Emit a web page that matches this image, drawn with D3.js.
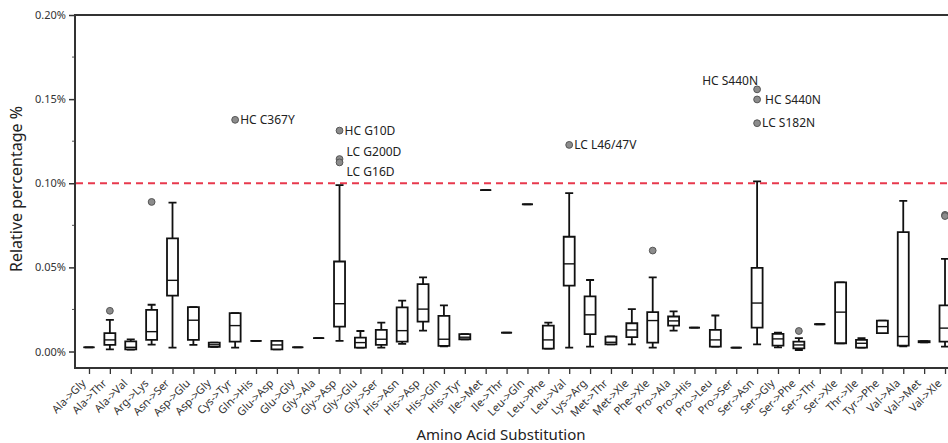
<!DOCTYPE html>
<html>
<head>
<meta charset="utf-8">
<script src="https://cdn.jsdelivr.net/npm/d3@7"></script>
<style>
  body { margin: 0; background: #fff; }
  svg { display: block; font-family: "Noto Sans", sans-serif; }
</style>
</head>
<body>
<div id="chart"></div>
<script>
// amino acid substitutions, values in %
var categories = ["Ala->Gly","Ala->Thr","Ala->Val","Arg->Lys","Asn->Ser","Asp->Glu","Asp->Gly","Cys->Tyr",
  "Gln->His","Glu->Asp","Glu->Gly","Gly->Ala","Gly->Asp","Gly->Glu","Gly->Ser","His->Asn","His->Asp",
  "His->Gln","His->Tyr","Ile->Met","Ile->Thr","Leu->Gln","Leu->Phe","Leu->Val","Lys->Arg","Met->Thr",
  "Met->Xle","Phe->Xle","Pro->Ala","Pro->His","Pro->Leu","Pro->Ser","Ser->Asn","Ser->Gly","Ser->Phe",
  "Ser->Thr","Ser->Xle","Thr->Ile","Tyr->Phe","Val->Ala","Val->Met","Val->Xle"]

var whiskerLow  = [0.0025,0.0013,0.0012,0.0041,0.0023,0.0039,0.0027,0.0023,0.0063,0.0013,0.0025,0.0079,0.0063,0.0023,0.0023,0.0045,0.0124,
  0.0030,0.0073,0.0959,0.0112,0.0875,0.0017,0.0023,0.0029,0.0043,0.0043,0.0023,0.0124,0.0142,0.0029,0.0023,0.0043,0.0025,0.0009,
  0.0162,0.0049,0.0023,0.0109,0.0030,0.0055,0.0029]
var q1 = [0.0025,0.0039,0.0013,0.0069,0.0332,0.0069,0.0027,0.0059,0.0063,0.0013,0.0025,0.0079,0.0148,0.0023,0.0039,0.0059,0.0178,
  0.0033,0.0073,0.0959,0.0112,0.0875,0.0017,0.0391,0.0103,0.0043,0.0085,0.0053,0.0154,0.0142,0.0029,0.0023,0.0142,0.0035,0.0019,
  0.0162,0.0049,0.0023,0.0109,0.0035,0.0055,0.0059]
var median = [0.0025,0.0069,0.0025,0.0118,0.0423,0.0186,0.0040,0.0154,0.0063,0.0039,0.0025,0.0079,0.0284,0.0053,0.0073,0.0124,0.0252,
  0.0073,0.0085,0.0959,0.0112,0.0875,0.0069,0.0521,0.0218,0.0055,0.0128,0.0184,0.0182,0.0142,0.0069,0.0023,0.0288,0.0075,0.0039,
  0.0162,0.0234,0.0049,0.0148,0.0089,0.0058,0.0139]
var q3 = [0.0025,0.0109,0.0060,0.0248,0.0672,0.0264,0.0053,0.0228,0.0063,0.0063,0.0025,0.0079,0.0535,0.0083,0.0128,0.0262,0.0401,
  0.0212,0.0103,0.0959,0.0112,0.0875,0.0154,0.0682,0.0328,0.0089,0.0168,0.0234,0.0208,0.0142,0.0128,0.0023,0.0497,0.0105,0.0059,
  0.0162,0.0411,0.0069,0.0184,0.0710,0.0062,0.0274]
var whiskerHigh = [0.0025,0.0188,0.0072,0.0278,0.0885,0.0264,0.0053,0.0228,0.0063,0.0063,0.0025,0.0079,0.0989,0.0122,0.0172,0.0302,0.0441,
  0.0274,0.0103,0.0959,0.0112,0.0875,0.0172,0.0941,0.0425,0.0090,0.0252,0.0441,0.0238,0.0142,0.0214,0.0023,0.1011,0.0112,0.0079,
  0.0162,0.0411,0.0079,0.0184,0.0895,0.0062,0.0551]

var outlierCat   = ["Ala->Thr","Arg->Lys","Cys->Tyr","Gly->Asp","Gly->Asp","Gly->Asp","Leu->Val","Phe->Xle",
  "Ser->Asn","Ser->Asn","Ser->Asn","Ser->Phe","Val->Xle","Val->Xle"]
var outlierValue = [0.0242,0.0889,0.1377,0.1313,0.1144,0.1124,0.1228,0.0600,0.1558,0.1498,0.1357,0.0122,0.0812,0.0805]
var outlierLabel = ["","","HC C367Y","HC G10D","LC G200D","LC G16D","LC L46/47V","","HC S440N","HC S440N","LC S182N","","",""]

var yTicks = [0, 0.05, 0.10, 0.15, 0.20]
var threshold = 0.10

var W = 948, H = 443
var mLeft = 75, mTop = 15, mBottom = 368, mRight = 959

var svg = d3.select("#chart").append("svg")
  .attr("width", W)
  .attr("height", H)

var x = d3.scalePoint().domain(categories).range([mLeft, mRight]).padding(0.67)
var y = d3.scaleLinear().domain([-0.0098, 0.2]).range([mBottom, mTop])

// y axis (minor ticks every 0.025)
var yAxis = svg.append("g")
  .attr("transform", "translate(" + mLeft + ",0)")
  .call(d3.axisLeft(y).tickValues(yTicks).tickSize(6).tickFormat(function(d){ return d3.format(".2f")(d) + "%" }))
yAxis.select(".domain").remove()
yAxis.selectAll("line").attr("stroke", "#333").attr("stroke-width", 1.5)
yAxis.selectAll("text").attr("font-size", "11px").attr("fill", "#333").attr("x", -9)
  .style("font-family", "Noto Sans, sans-serif")

svg.append("g").selectAll("line")
  .data([0.025, 0.075, 0.125, 0.175])
  .enter().append("line")
  .attr("x1", mLeft - 3).attr("x2", mLeft)
  .attr("y1", function(d){ return y(d) }).attr("y2", function(d){ return y(d) })
  .attr("stroke", "#555").attr("stroke-width", 1)

// x axis
var xAxis = svg.append("g")
  .attr("transform", "translate(0," + mBottom + ")")
  .call(d3.axisBottom(x).tickSize(6).tickSizeOuter(0))
xAxis.select(".domain").remove()
xAxis.selectAll("line").attr("stroke", "#333").attr("stroke-width", 1.3)
xAxis.selectAll("text")
  .attr("font-size", "11px").attr("fill", "#333")
  .style("font-family", "Noto Sans, sans-serif")
  .attr("text-anchor", "end")
  .attr("y", 0).attr("dy", 0)
  .attr("transform", "translate(-3,16) rotate(-45)")

// frame
svg.append("path")
  .attr("d", "M" + (W + 5) + "," + mTop + "H" + mLeft + "V" + mBottom + "H" + (W + 5))
  .attr("fill", "none").attr("stroke", "#333").attr("stroke-width", 2)

// threshold line
svg.append("line")
  .attr("x1", mLeft + 1).attr("x2", W)
  .attr("y1", y(threshold)).attr("y2", y(threshold))
  .attr("stroke", "#e8394d").attr("stroke-width", 2)
  .attr("stroke-dasharray", "7,5")

// boxes
var boxW = 11, capW = 8
var boxes = svg.append("g").selectAll("g")
  .data(categories)
  .enter().append("g")

boxes.append("path")
  .attr("d", function(d, i) {
    var cx = x(d)
    return "M" + cx + "," + y(whiskerLow[i]) + "V" + y(whiskerHigh[i]) +
      "M" + (cx - capW / 2) + "," + y(whiskerLow[i]) + "h" + capW +
      "M" + (cx - capW / 2) + "," + y(whiskerHigh[i]) + "h" + capW
  })
  .attr("stroke", "#111").attr("stroke-width", 1.8).attr("fill", "none")

boxes.append("path")
  .attr("d", function(d, i) {
    var x0 = x(d) - boxW / 2
    return "M" + x0 + "," + y(q3[i]) + "h" + boxW + "V" + y(q1[i]) + "H" + x0 + "Z"
  })
  .attr("stroke", "#111").attr("stroke-width", 1.8).attr("fill", "#fff")

boxes.append("line")
  .attr("x1", function(d){ return x(d) - boxW / 2 })
  .attr("x2", function(d){ return x(d) + boxW / 2 })
  .attr("y1", function(d, i){ return y(median[i]) })
  .attr("y2", function(d, i){ return y(median[i]) })
  .attr("stroke", "#111").attr("stroke-width", 1.4)

// outliers
svg.append("g").selectAll("circle")
  .data(outlierValue)
  .enter().append("circle")
  .attr("cx", function(d, i){ return x(outlierCat[i]) })
  .attr("cy", function(d){ return y(d) })
  .attr("r", 3.4)
  .attr("fill", "#8c8c8c").attr("stroke", "#555").attr("stroke-width", 1)

// label nudges: [dx, dy, anchor]
var nudge = {4: [7, -7, "start"], 5: [7, 9, "start"], 8: [1, -9, "end"], 9: [8, 0, "start"]}
var labelled = outlierLabel.map(function(d, i){ return i }).filter(function(i){ return outlierLabel[i] != "" })

svg.append("g").selectAll("text")
  .data(labelled)
  .enter().append("text")
  .attr("x", function(k){ return x(outlierCat[k]) + (nudge[k] ? nudge[k][0] : 5) })
  .attr("y", function(k){ return y(outlierValue[k]) + (nudge[k] ? nudge[k][1] : 0) })
  .attr("dy", "0.35em")
  .attr("text-anchor", function(k){ return nudge[k] ? nudge[k][2] : "start" })
  .attr("font-size", "12px").attr("fill", "#222")
  .text(function(k){ return outlierLabel[k] })

// titles
svg.append("text")
  .attr("transform", "translate(22," + 189 + ") rotate(-90)")
  .attr("text-anchor", "middle")
  .attr("font-size", "16px").attr("fill", "#222")
  .text("Relative percentage %")

svg.append("text")
  .attr("x", 501).attr("y", 440)
  .attr("text-anchor", "middle")
  .attr("font-size", "15px").attr("fill", "#222")
  .text("Amino Acid Substitution")
</script>
</body>
</html>
